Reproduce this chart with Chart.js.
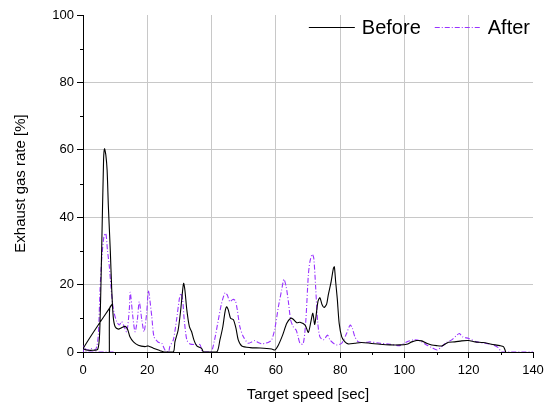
<!DOCTYPE html>
<html>
<head>
<meta charset="utf-8">
<script src="https://cdn.jsdelivr.net/npm/chart.js@4.4.1/dist/chart.umd.min.js"></script>
<style>
  html, body { margin: 0; padding: 0; background: #fff; }
  #wrap { width: 550px; height: 407px; }
</style>
</head>
<body>
<div id="wrap"><canvas id="chart" width="550" height="407"></canvas></div>
<script>
// Data
const xTicks = [0, 20, 40, 60, 80, 100, 120, 140];
const yTicks = [0, 20, 40, 60, 80, 100];

const beforeX = [8.2, 8.3, 9.1, 0.1, 1, 3, 4.6, 5.2, 5.8, 6.4, 6.7, 7.1, 7.5, 7.9, 8.5, 8.9, 9.4, 10, 11, 12,
  13.1, 13.9, 14.6, 15.7, 17.2, 19.3, 20.3, 21.9, 24, 25.3, 28.1, 28.6, 29.6, 30.4, 30.9, 31.3, 31.7, 32.3, 33.1, 33.8,
  34.5, 35.4, 36.9, 37.5, 41.6, 42.6, 43.5, 44.2, 44.7, 45.2, 45.9, 46.8, 47.6, 48.3, 49.4, 52, 55.1, 58.7, 59.7, 60.8,
  62.1, 63.4, 64.6, 65.3, 66.5, 67.5, 69.1, 70.1, 70.9, 71.5, 72.1, 73.1, 73.7, 74.4, 75, 75.8, 76.3, 77.2, 77.9, 78.2,
  78.6, 79.1, 79.7, 80.5, 81.5, 82.5, 84.6, 86.7, 89.3, 92.4, 95.5, 98.6, 100.7, 102.3, 103.8, 105.4, 106.9, 108.5, 110, 111.6,
  112.6, 113.7, 115.7, 117.8, 119.9, 122, 124.5, 127.1, 129.7, 130.8, 131.3, 131.5];
const beforeY = [0, 13, 14.2, 1.1, 0.6, 0.5, 0.8, 6, 30, 57, 60.3, 58.5, 54, 43, 30, 19.4, 10.5, 7.5, 6.8, 7.2,
  7.6, 6.7, 4.5, 3, 2, 1.6, 1.8, 1.1, 0.4, 0, 0, 3, 6.5, 12.5, 17.4, 20.4, 18.4, 12.5, 7.5, 6,
  3.6, 1.8, 1.1, 0, 0, 3.6, 7.5, 12, 13.4, 12.5, 10, 9.6, 7, 3.6, 1.8, 1.3, 1.2, 0.9, 0.6, 2.1,
  5, 8.5, 10, 9.8, 8.7, 8.8, 8, 5.8, 9, 11.5, 8.2, 15, 16.1, 14, 13.2, 14.2, 16.9, 20.9, 24.8, 25.3,
  20.9, 15.9, 8.5, 4.5, 3, 2.4, 2.6, 2.8, 2.6, 2.3, 2.1, 2.1, 2.3, 3, 3.4, 3.3, 2.6, 2.1, 1.9, 1.8,
  2.3, 2.9, 3, 3.3, 3.4, 3, 2.8, 2.3, 1.9, 1.6, 0.6, 0];

const afterX = [9.5, 0.3, 0, 0.6, 1.7, 2.7, 3.7, 4.3, 4.8, 5.3, 5.8, 6.5, 7.1, 7.6, 8.2, 8.7, 9.2, 9.7, 10.5, 11.3,
  12, 12.6, 13.6, 14.4, 14.7, 15.5, 16.2, 16.9, 17.5, 18.3, 19, 19.8, 20.3, 20.6, 21.4, 22.1, 23.4, 24.5, 25.5, 26.6,
  27, 28.1, 29.1, 30, 30.5, 31, 31.5, 32.3, 33.3, 34.8, 36.4, 36.9, 37.5, 39.8, 40.8, 42.1, 43.1, 44.2, 44.9, 45.7,
  46.6, 47.4, 48, 48.8, 49.9, 51.4, 52.5, 53.5, 54.5, 55.6, 56.6, 57.6, 58.7, 59.7, 60.8, 61.8, 62.5, 63.2, 63.9, 64.6,
  65.4, 66.3, 66.8, 67.5, 68.5, 69.3, 70.1, 70.6, 71.3, 71.8, 72.4, 73, 73.7, 74.8, 76.1, 76.8, 77.9, 79, 80.5, 82,
  83.1, 83.8, 84.6, 85.7, 87.7, 89.3, 92.4, 95.5, 98.6, 100.7, 102.8, 104.8, 106.9, 108.5, 110.2, 111.6, 113.2, 114.7, 116.3, 117.1,
  118.1, 120, 122.5, 125.1, 127.6, 129.2, 130.3, 140];
const afterY = [0, 0, 2, 1, 0.6, 1, 0.6, 1.6, 5.5, 18.4, 27.3, 34.2, 35.2, 30.3, 25.3, 19.4, 14.4, 11.5, 9, 8,
  9, 8, 6, 12.5, 17.7, 10.5, 6, 9.5, 14.9, 9.5, 6, 11.5, 18.2, 17, 10.5, 4.5, 2.9, 2.6, 0.6, 0,
  1.6, 3.6, 9.5, 15.9, 17.4, 15.5, 9.5, 3.6, 2.4, 2.2, 2.2, 0.6, 0, 0, 3, 9.5, 14.4, 17.6, 16.9, 14.9,
  15.6, 15.2, 12.5, 7.5, 4.5, 2.6, 3, 3.4, 2.8, 2.4, 2.6, 2.8, 3.6, 7, 13.5, 18.4, 21.6, 19.4, 14.9, 9.5,
  7.5, 6.5, 5, 2.6, 2.4, 9, 22.8, 26.8, 29, 27.8, 18.9, 9, 4.5, 3.6, 5, 3.6, 2.6, 2.1, 2.6, 5.5,
  8, 7, 4.5, 3, 2.8, 3, 2.6, 2.3, 1.9, 3, 3.6, 3.3, 2.1, 1.3, 0.6, 1.6, 2.9, 3.6, 5, 5.5,
  4.5, 4, 3, 2.6, 2.1, 1.3, 0, 0];

const toPoints = (xs, ys) => xs.map((x, i) => ({ x: x, y: ys[i] }));

const FONT = "'Liberation Sans', Arial, sans-serif";
const GRID = '#c8c8c8';

// minor ticks halfway between the major ones
const minorTicks = {
  id: 'minorTicks',
  afterDraw(chart) {
    const ctx = chart.ctx;
    const xs = chart.scales.x, ys = chart.scales.y;
    ctx.save();
    ctx.strokeStyle = '#000';
    ctx.lineWidth = 1;
    ctx.beginPath();
    for (let i = 0; i < xTicks.length - 1; i++) {
      const px = Math.round(xs.getPixelForValue((xTicks[i] + xTicks[i + 1]) / 2)) + 0.5;
      ctx.moveTo(px, ys.bottom);
      ctx.lineTo(px, ys.bottom + 3);
    }
    for (let i = 0; i < yTicks.length - 1; i++) {
      const py = Math.round(ys.getPixelForValue((yTicks[i] + yTicks[i + 1]) / 2)) + 0.5;
      ctx.moveTo(xs.left, py);
      ctx.lineTo(xs.left - 3, py);
    }
    ctx.stroke();
    ctx.restore();
  }
};

// legend drawn inside the plot, top right, one row
const insideLegend = {
  id: 'insideLegend',
  afterDraw(chart) {
    const ctx = chart.ctx;
    const area = chart.chartArea;
    const lineLen = 46, lineGap = 7, itemGap = 14;
    const y = area.top + 12;
    ctx.save();
    ctx.font = '20px ' + FONT;
    ctx.textBaseline = 'middle';
    const sets = chart.data.datasets;
    let total = 0;
    sets.forEach((ds, i) => {
      total += lineLen + lineGap + ctx.measureText(ds.label).width;
      if (i < sets.length - 1) total += itemGap;
    });
    let x = area.right - 3 - total;
    sets.forEach(ds => {
      ctx.strokeStyle = ds.borderColor;
      ctx.lineWidth = ds.borderWidth;
      ctx.setLineDash(ds.borderDash || []);
      ctx.beginPath();
      ctx.moveTo(x, y + 0.5);
      ctx.lineTo(x + lineLen, y + 0.5);
      ctx.stroke();
      ctx.setLineDash([]);
      x += lineLen + lineGap;
      ctx.fillStyle = '#000';
      ctx.fillText(ds.label, x, y + 1);
      x += ctx.measureText(ds.label).width + itemGap;
    });
    ctx.restore();
  }
};

new Chart(document.getElementById('chart'), {
  type: 'line',
  data: {
    datasets: [{
      label: 'Before',
      data: toPoints(beforeX, beforeY),
      borderColor: '#000000',
      backgroundColor: '#000000',
      borderWidth: 1.1,
      pointRadius: 0,
      tension: 0.25
    }, {
      label: 'After',
      data: toPoints(afterX, afterY),
      borderColor: '#9933ff',
      backgroundColor: '#9933ff',
      borderWidth: 1.1,
      borderDash: [5, 2, 1, 2],
      pointRadius: 0,
      tension: 0.25
    }]
  },
  options: {
    responsive: false,
    animation: false,
    layout: { padding: { top: 15, right: 17, left: 0, bottom: 0 } },
    plugins: {
      legend: { display: false },
      tooltip: { enabled: false }
    },
    scales: {
      x: {
        type: 'linear',
        min: 0, max: 140,
        afterBuildTicks: s => { s.ticks = xTicks.map(v => ({ value: v })); },
        afterFit: s => { s.height = 55; },
        border: { color: '#000', width: 1 },
        grid: {
          color: c => (c.tick.value === 0 || c.tick.value === 140) ? 'rgba(0,0,0,0)' : GRID,
          tickColor: '#000',
          tickLength: 6
        },
        ticks: { color: '#000', font: { family: FONT, size: 13 }, padding: 5, maxRotation: 0 },
        title: {
          display: true, text: 'Target speed [sec]', color: '#000',
          font: { family: FONT, size: 15 }, padding: { top: 4, bottom: 3 }
        }
      },
      y: {
        min: 0, max: 100,
        afterBuildTicks: s => { s.ticks = yTicks.map(v => ({ value: v })); },
        afterFit: s => { s.width = 83; },
        border: { color: '#000', width: 1 },
        grid: {
          color: c => (c.tick.value === 0 || c.tick.value === 100) ? 'rgba(0,0,0,0)' : GRID,
          tickColor: '#000',
          tickLength: 6
        },
        ticks: { color: '#000', font: { family: FONT, size: 13 }, padding: 3 },
        title: {
          display: true, text: 'Exhaust gas rate [%]', color: '#000',
          font: { family: FONT, size: 15 }, padding: { top: 12, bottom: 4 }
        }
      }
    }
  },
  plugins: [minorTicks, insideLegend]
});
</script>
</body>
</html>
